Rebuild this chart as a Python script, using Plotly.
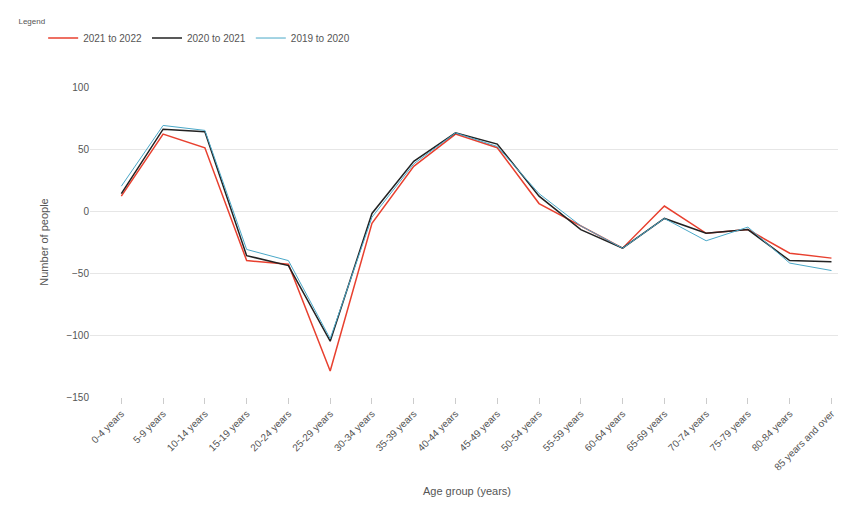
import plotly.graph_objects as go

categories = ["0-4 years", "5-9 years", "10-14 years", "15-19 years", "20-24 years", "25-29 years",
              "30-34 years", "35-39 years", "40-44 years", "45-49 years", "50-54 years", "55-59 years",
              "60-64 years", "65-69 years", "70-74 years", "75-79 years", "80-84 years", "85 years and over"]
red_name = "2021 to 2022"
red = [12, 62, 51, -40, -43, -129, -10, 36, 62, 51, 6, -12, -30, 4, -18, -15, -34, -38]
black_name = "2020 to 2021"
black = [14, 66, 64, -36, -44, -105, -2, 40, 63, 54, 12, -15, -30, -6, -18, -15, -40, -41]
blue_name = "2019 to 2020"
blue = [20, 69, 65, -31, -40, -103, -5, 38, 63, 52, 14, -12, -30, -6, -24, -13, -42, -48]

fig = go.Figure()
fig.add_trace(go.Scatter(x=categories, y=red, name=red_name, mode="lines", line=dict(color="#e8402f", width=1.5)))
fig.add_trace(go.Scatter(x=categories, y=black, name=black_name, mode="lines", line=dict(color="#222222", width=1.5)))
fig.add_trace(go.Scatter(x=categories, y=blue, name=blue_name, mode="lines", line=dict(color="#4aa8c8", width=1)))

fig.update_layout(
    width=846, height=513, template="plotly_white",
    font=dict(family="Liberation Sans, Arial", size=10, color="#555"),
    margin=dict(l=82, r=10, t=79, b=124),
    legend=dict(orientation="h", x=0.01, y=0.99, xanchor="left", yanchor="top",
                xref="container", yref="container",
                title=dict(text="Legend", side="top left", font=dict(size=8)),
                font=dict(size=10)),
    showlegend=True,
    xaxis=dict(title=dict(text="Age group (years)", font=dict(size=11)), tickangle=-45, showgrid=False,
               showline=False, ticks="outside", ticklen=6, tickcolor="#ccc", range=[-0.75, 17.3]),
    yaxis=dict(title=dict(text="Number of people", font=dict(size=11)), range=[-150, 100], dtick=50,
               gridcolor="#e6e6e6", zeroline=False),
)
fig.write_html("out.html")
